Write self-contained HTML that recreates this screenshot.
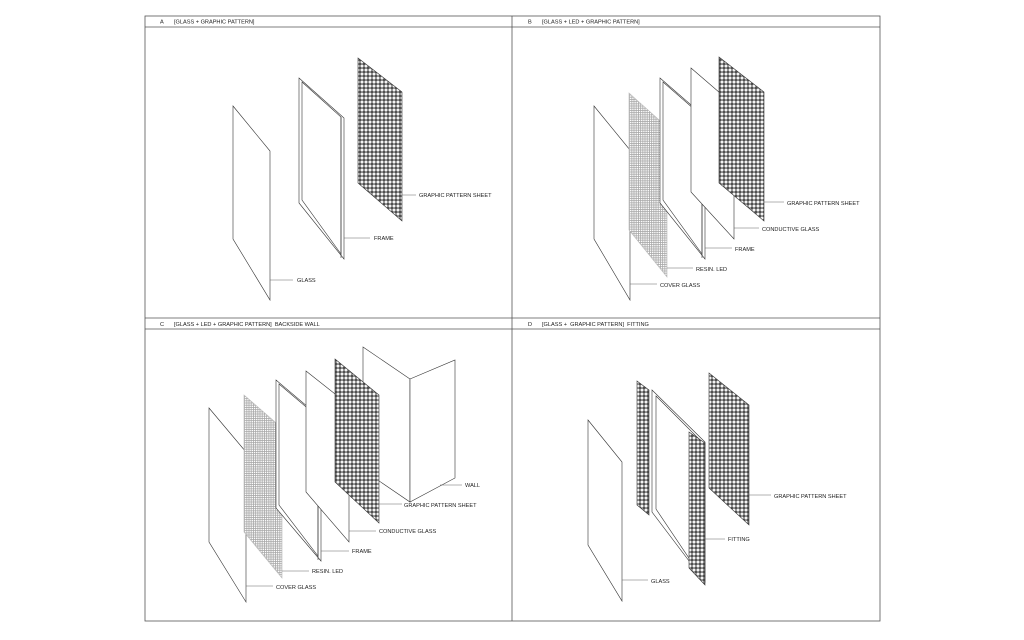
<!DOCTYPE html>
<html><head><meta charset="utf-8"><style>
html,body{margin:0;padding:0;background:#fff;}
svg{display:block;}
text{font-family:"Liberation Sans",sans-serif;font-size:5.6px;fill:#222;}
</style></head><body>
<svg width="1024" height="640" viewBox="0 0 1024 640" xmlns="http://www.w3.org/2000/svg">
<defs>
<pattern id="perf" width="4" height="4" patternUnits="userSpaceOnUse">
<rect width="4" height="4" fill="#4a4a4a"/><circle cx="2" cy="2" r="1.55" fill="#f4f4f4"/>
</pattern>
<pattern id="led" width="2.2" height="2.2" patternUnits="userSpaceOnUse">
<rect width="2.2" height="2.2" fill="#fff"/><rect width="2.2" height="0.8" fill="#a8a8a8"/><rect width="0.8" height="2.2" fill="#a8a8a8"/>
</pattern>
</defs>
<g fill="none" stroke="#555" stroke-width="0.8">
<rect x="145" y="16" width="735" height="605"/>
<line x1="512" y1="16" x2="512" y2="621"/>
<line x1="145" y1="318" x2="880" y2="318"/>
<line x1="145" y1="27" x2="880" y2="27"/>
<line x1="145" y1="329" x2="880" y2="329"/>
</g>
<text x="160" y="23.5">A</text><text x="174" y="23.5">[GLASS + GRAPHIC PATTERN]</text>
<text x="528" y="23.5">B</text><text x="542" y="23.5">[GLASS + LED + GRAPHIC PATTERN]</text>
<text x="160" y="326">C</text><text x="174" y="326">[GLASS + LED + GRAPHIC PATTERN]&#160; BACKSIDE WALL</text>
<text x="528" y="326">D</text><text x="542" y="326">[GLASS +&#160; GRAPHIC PATTERN]&#160; FITTING</text>

<g stroke="#333" stroke-width="0.6" fill="#fff">
<!-- A -->
<polygon points="233,106 270,151 270,300 233,239"/>
<polygon points="299,78 344,118 344,259 299,203"/>
<polygon points="302,82 341,117 341,254 302,200"/>
<line x1="341" y1="117" x2="341" y2="258"/>
<polygon points="358,58 402,92 402,221 358,183" fill="url(#perf)"/>
<!-- B -->
<polygon points="594,106 630,150 630,300 594,239"/>
<polygon points="629,93 667,127 667,277 629,230" fill="url(#led)" stroke="#bbb"/>
<polygon points="660,78 705,117 705,259 660,203"/>
<polygon points="663,82 702,116 702,254 663,200"/>
<line x1="702" y1="116" x2="702" y2="258"/>
<polygon points="691,68 734,105 734,239 691,192"/>
<polygon points="719,57 764,92 764,221 719,183" fill="url(#perf)"/>
<!-- C -->
<polygon points="363,347 410,379 410,502 363,470"/>
<polygon points="410,379 455,360 455,478 410,502"/>
<polygon points="209,408 246,452 246,602 209,542"/>
<polygon points="244,395 282,428 282,578 244,532" fill="url(#led)" stroke="#bbb"/>
<polygon points="276,380 321,418 321,561 276,508"/>
<polygon points="279,384 318,417 318,556 279,505"/>
<line x1="318" y1="417" x2="318" y2="560"/>
<polygon points="306,371 349,405 349,542 306,492"/>
<polygon points="335,359 379,395 379,523 335,482" fill="url(#perf)"/>
<!-- D -->
<polygon points="588,420 622,462 622,601 588,545"/>
<polygon points="637,381 649,390 649,515 637,505" fill="url(#perf)"/>
<polygon points="652,390 705,442 705,582 652,512"/>
<polygon points="656,396 701,441 701,576 656,509"/>
<polygon points="689,432 705,443 705,585 689,568" fill="url(#perf)"/>
<polygon points="709,373 749,405 749,525 709,488" fill="url(#perf)"/>
</g>
<g stroke="#666" stroke-width="0.5">
<line x1="402" y1="195" x2="416" y2="195"/><line x1="344" y1="238" x2="370" y2="238"/><line x1="270" y1="280" x2="293" y2="280"/>
<line x1="764" y1="202" x2="784" y2="202"/><line x1="734" y1="228" x2="759" y2="228"/><line x1="705" y1="248" x2="732" y2="248"/><line x1="667" y1="268" x2="693" y2="268"/><line x1="630" y1="284" x2="657" y2="284"/>
<line x1="440" y1="485" x2="462" y2="485"/><line x1="379" y1="504" x2="402" y2="504"/><line x1="349" y1="531" x2="376" y2="531"/><line x1="321" y1="551" x2="349" y2="551"/><line x1="282" y1="571" x2="309" y2="571"/><line x1="246" y1="586" x2="273" y2="586"/>
<line x1="749" y1="495" x2="771" y2="495"/><line x1="705" y1="539" x2="725" y2="539"/><line x1="622" y1="580" x2="648" y2="580"/>
</g>
<text x="419" y="197">GRAPHIC PATTERN SHEET</text><text x="374" y="240">FRAME</text><text x="297" y="282">GLASS</text>
<text x="787" y="205">GRAPHIC PATTERN SHEET</text><text x="762" y="231">CONDUCTIVE GLASS</text><text x="735" y="251">FRAME</text><text x="696" y="271">RESIN. LED</text><text x="660" y="287">COVER GLASS</text>
<text x="465" y="487">WALL</text><text x="404" y="507">GRAPHIC PATTERN SHEET</text><text x="379" y="533">CONDUCTIVE GLASS</text><text x="352" y="553">FRAME</text><text x="312" y="573">RESIN. LED</text><text x="276" y="589">COVER GLASS</text>
<text x="774" y="498">GRAPHIC PATTERN SHEET</text><text x="728" y="541">FITTING</text><text x="651" y="583">GLASS</text>
</svg>
</body></html>
